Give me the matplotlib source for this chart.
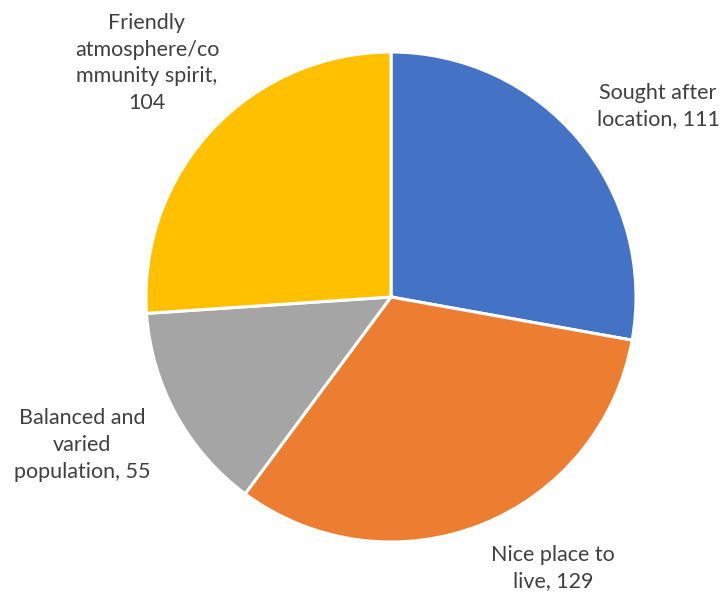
import matplotlib
matplotlib.use("Agg")
import matplotlib.pyplot as plt

categories = ["Sought after\nlocation", "Nice place to\nlive", "Balanced and\nvaried\npopulation",
              "Friendly\natmosphere/co\nmmunity spirit,"]
values = [111, 129, 55, 104]
colors = ["#4472C4", "#ED7D31", "#A5A5A5", "#FFC000"]

W, H = 726, 597
fig = plt.figure(figsize=(W / 100, H / 100), dpi=100)
ax = fig.add_axes([0, 0, 1, 1])

ax.pie(values, colors=colors, startangle=90, counterclock=False,
       center=(391, H - 297), radius=245,
       wedgeprops=dict(edgecolor="white", linewidth=2.2))

# pie() resets the limits, so fix the pixel frame afterwards
ax.set_xlim(0, W)
ax.set_ylim(0, H)
ax.set_aspect("equal")
ax.axis("off")

# label text, positioned outside each slice
label_pos = [(658, 106), (553, 568), (82, 445), (147, 63)]
for cat, val, (x, y) in zip(categories, values, label_pos):
    sep = "\n" if cat.endswith(",") else ", "
    ax.text(x, H - y, f"{cat}{sep}{val}", ha="center", va="center",
            fontsize=15.5, family="Lato", color="#404040", linespacing=1.43)

fig.savefig("out.png", dpi=100)
